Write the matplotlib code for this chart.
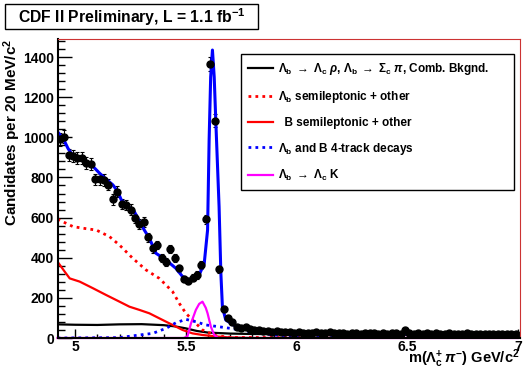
import numpy as np
import matplotlib
matplotlib.use('Agg')
import matplotlib.pyplot as plt
from matplotlib.patches import Rectangle
from matplotlib.ticker import MultipleLocator

plt.rcParams['font.family'] = ['Liberation Sans', 'DejaVu Sans']
plt.rcParams['font.weight'] = 'bold'
plt.rcParams['mathtext.fontset'] = 'custom'
plt.rcParams['mathtext.rm'] = 'Liberation Sans'
plt.rcParams['mathtext.it'] = 'Liberation Sans:italic'
plt.rcParams['mathtext.bf'] = 'Liberation Sans:bold'

# histogram: 20 MeV bins
bin_lo = 4.92
bin_w = 0.02
counts = [990, 1003, 912, 909, 899, 899, 874, 866, 791, 791,
          788, 763, 691, 730, 668, 663, 640, 596, 567, 578,
          502, 447, 464, 400, 380, 443, 400, 347, 294, 284,
          300, 314, 364, 591, 1365, 1083, 342, 143, 98, 81,
          56, 48, 53, 43, 40, 40, 36, 35, 31, 33,
          30, 28, 31, 27, 29, 26, 27, 24, 30, 25,
          24, 28, 23, 25, 26, 22, 27, 24, 21, 25,
          23, 26, 22, 24, 21, 23, 25, 22, 40, 24,
          22, 26, 21, 23, 20, 24, 22, 21, 23, 19,
          22, 20, 24, 21, 19, 22, 20, 18, 21, 19,
          22, 18, 20, 19]

# fit components
fit_x = [4.922, 4.945, 4.967, 4.99, 5.02, 5.05, 5.08, 5.11, 5.14, 5.17,
         5.192, 5.208, 5.237, 5.267, 5.29, 5.312, 5.335, 5.365, 5.41, 5.455,
         5.485, 5.515, 5.53, 5.56, 5.583, 5.598, 5.605, 5.612, 5.62, 5.628,
         5.635, 5.65, 5.658, 5.665, 5.68, 5.725, 5.785, 5.85, 5.9, 6.0,
         6.2, 6.5, 7.0]
fit_y = [1025, 995, 945, 907, 892, 879, 855, 821, 791, 763,
         730, 688, 658, 630, 580, 538, 497, 422, 389, 347,
         306, 289, 292, 314, 373, 538, 987, 1300, 1435, 1300,
         1086, 654, 324, 156, 90, 58, 40, 33, 30, 27,
         24, 21, 18]

comb_x = [4.92, 5.0, 5.1, 5.2, 5.3, 5.4, 5.45, 5.5, 5.55, 5.6, 5.7, 5.8, 6.0, 6.5, 7.0]
comb_y = [68, 66, 65, 68, 69, 64, 58, 48, 35, 27, 22, 20, 18, 16, 14]

lbsl_x = [4.92, 4.99, 5.035, 5.095, 5.155, 5.2, 5.26, 5.32, 5.38, 5.44,
          5.47, 5.5, 5.53, 5.575, 5.635, 5.7, 7.0]
lbsl_y = [592, 555, 547, 538, 505, 463, 397, 339, 297, 231,
          173, 123, 90, 40, 12, 3, 0]

bsl_x = [4.92, 4.952, 4.975, 5.02, 5.08, 5.14, 5.2, 5.245, 5.29, 5.335,
         5.38, 5.44, 5.485, 5.53, 5.575, 5.635, 5.695, 5.8, 7.0]
bsl_y = [380, 331, 297, 281, 248, 214, 181, 156, 140, 123,
         98, 65, 40, 23, 15, 8, 3, 0, 0]

four_x = [4.92, 5.2, 5.29, 5.35, 5.41, 5.455, 5.5, 5.545, 5.59, 5.65,
          5.72, 5.77, 5.84, 5.9, 6.0, 6.2, 7.0]
four_y = [0, 2, 15, 23, 48, 76, 93, 81, 65, 56,
          45, 34, 23, 15, 8, 4, 2]

lck_x = [4.92, 5.49, 5.507, 5.523, 5.545, 5.56, 5.575, 5.59, 5.598, 5.613,
         5.628, 5.645, 7.0]
lck_y = [0, 0, 8, 73, 140, 170, 181, 150, 123, 56,
         15, 0, 0]

centers = bin_lo + bin_w * (np.arange(len(counts)) + 0.5)
errs = np.sqrt(counts)

fig = plt.figure(figsize=(5.23, 3.71), dpi=100)
ax = fig.add_axes([58 / 523, 1 - 338 / 371, 462 / 523, 299 / 371])

ax.plot(comb_x, comb_y, color='black', lw=1.6)
ax.plot(lbsl_x, lbsl_y, color='red', lw=2, ls=(0, (1, 1.5)))
ax.plot(bsl_x, bsl_y, color='red', lw=1.6)
ax.plot(four_x, four_y, color='blue', lw=2, ls=(0, (1, 1.5)))
ax.plot(lck_x, lck_y, color='magenta', lw=1.6, clip_on=False)

ax.errorbar(centers, counts, yerr=errs, fmt='o', color='black', ms=5,
            elinewidth=0.8, capsize=1.5, capthick=0.8)
ax.plot(fit_x, fit_y, color='blue', lw=2.2)

ax.set_xlim(4.922, 7.01)
ax.set_ylim(0, 1490)
ax.xaxis.set_major_locator(MultipleLocator(0.5))
ax.xaxis.set_minor_locator(MultipleLocator(0.1))
ax.yaxis.set_major_locator(MultipleLocator(200))
ax.yaxis.set_minor_locator(MultipleLocator(40))
ax.set_xticks([5, 5.5, 6, 6.5, 7])
ax.set_xticklabels(['5', '5.5', '6', '6.5', '7'])
ax.tick_params(axis='both', which='both', direction='in', labelsize=10,
               top=False, right=False, width=1)
ax.tick_params(axis='y', which='major', length=10, pad=3)
ax.tick_params(axis='y', which='minor', length=5)
ax.tick_params(axis='x', which='major', length=6.5, pad=1.5)
ax.tick_params(axis='x', which='minor', length=3.2)
for lab in ax.get_xticklabels() + ax.get_yticklabels():
    lab.set_fontweight('bold')

ax.spines['left'].set_linewidth(1.5)
ax.spines['bottom'].set_linewidth(1.5)
ax.spines['top'].set_color('#cc3333')
ax.spines['right'].set_color('#cc3333')
ax.spines['top'].set_linewidth(0.8)
ax.spines['right'].set_linewidth(0.8)

ax.set_ylabel(r'Candidates per 20 MeV/c$^{\mathbf{2}}$', fontsize=11,
              fontweight='bold', ha='right')
ax.yaxis.set_label_coords(-0.075, 1.0)
ax.set_xlabel(r'm($\Lambda^{\mathbf{+}}_{\mathbf{c}}\,\pi^{\mathbf{-}}$) GeV/c$^{\mathbf{2}}$',
              fontsize=10.5, fontweight='bold', ha='right', va='top')
ax.xaxis.set_label_coords(1.0, -0.033)

labels = [r'$\Lambda_{\mathbf{b}}\;\rightarrow\;\Lambda_{\mathbf{c}}\ \rho$, $\Lambda_{\mathbf{b}}\;\rightarrow\;\Sigma_{\mathbf{c}}\ \pi$, Comb. Bkgnd.',
          r'$\Lambda_{\mathbf{b}}$ semileptonic + other',
          '  B semileptonic + other',
          r'$\Lambda_{\mathbf{b}}$ and B 4-track decays',
          r'$\Lambda_{\mathbf{b}}\;\rightarrow\;\Lambda_{\mathbf{c}}$ K']
handles = ax.get_lines()[:5]
leg = ax.legend(handles, labels, loc='upper left', mode='expand',
                bbox_to_anchor=(241 / 523, 1 - 176 / 371, 273 / 523, 122 / 371),
                bbox_transform=fig.transFigure, borderaxespad=0,
                handlelength=2.1, handletextpad=0.4, labelspacing=1.0,
                borderpad=0.6, fancybox=False, framealpha=1,
                edgecolor='black', prop={'weight': 'bold', 'size': 8.5})
leg.get_frame().set_linewidth(1)

fig.patches.append(Rectangle((5 / 523, 1 - 29 / 371), 253 / 523, 25 / 371,
                             transform=fig.transFigure, facecolor='white',
                             edgecolor='black', lw=1))
fig.text(131.5 / 523, 1 - 17 / 371, r'CDF II Preliminary, L = 1.1 fb$^{\mathbf{-1}}$',
         ha='center', va='center', fontsize=11.3, fontweight='bold')

fig.savefig('out.png', dpi=100)
